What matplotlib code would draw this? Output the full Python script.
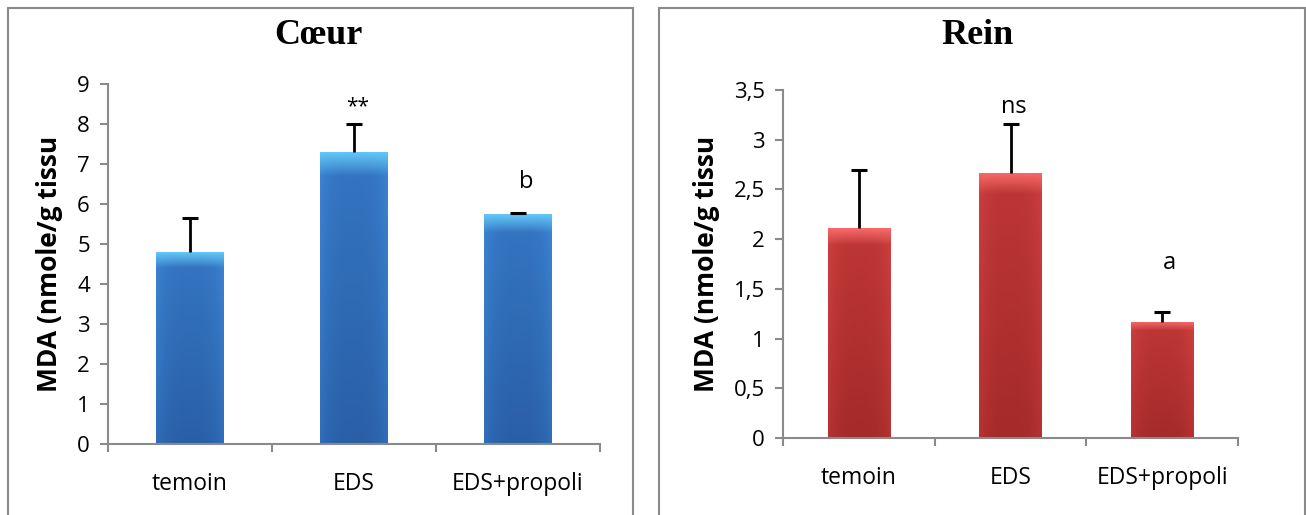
import numpy as np
import matplotlib
matplotlib.use("Agg")
import matplotlib.pyplot as plt
from matplotlib.patches import Rectangle
from matplotlib.colors import to_rgb

# data
groups = ["temoin", "EDS", "EDS+propoli"]

coeur_vals = [4.8, 7.3, 5.75]
coeur_err = [0.85, 0.7, 0.03]
coeur_marks = ["", "**", "b"]
coeur_mark_y = [0, 8.43, 6.55]

rein_vals = [2.11, 2.67, 1.17]
rein_err = [0.59, 0.49, 0.10]
rein_marks = ["", "ns", "a"]
rein_mark_y = [0, 3.33, 1.76]

coeur_ticks = [0, 1, 2, 3, 4, 5, 6, 7, 8, 9]
rein_ticks = [0, 0.5, 1, 1.5, 2, 2.5, 3, 3.5]
rein_ticklabels = ["0", "0,5", "1", "1,5", "2", "2,5", "3", "3,5"]

plt.rcParams['font.family'] = ['Open Sans', 'DejaVu Sans']
GREY = "#8a8a8a"


def gradient_bars(ax, x, heights, width, light, mid, dark):
    light, mid, dark = np.array(to_rgb(light)), np.array(to_rgb(mid)), np.array(to_rgb(dark))
    for xi, h in zip(x, heights):
        bar = ax.bar(xi, h, width, color=mid, zorder=2)[0]
        ny, nx = 200, 60
        v = np.linspace(0, 1, ny)[:, None]          # 0 bottom .. 1 top
        u = np.abs(np.linspace(-1, 1, nx))[None, :]  # 0 centre .. 1 edges
        t = 0.45 * v + 0.3 * u ** 3
        img = dark[None, None, :] * (1 - t[..., None]) + mid[None, None, :] * t[..., None]
        # light band at top
        top = np.clip((v - 0.92) / 0.08, 0, 1)
        img = img * (1 - top[..., None]) + light[None, None, :] * top[..., None]
        im = ax.imshow(img, extent=(xi - width / 2, xi + width / 2, 0, h),
                       origin="lower", aspect="auto", zorder=2.1, interpolation="bilinear")
        im.set_clip_path(bar)


def panel(ax, vals, err, marks, mark_y, ticks, ticklabels, ymax, colors):
    x = np.arange(len(groups)) + 0.5
    gradient_bars(ax, x, vals, 0.41, *colors)
    top = np.array(vals) + np.array(err)
    ax.vlines(x, vals, top, color="black", linewidth=2, zorder=3)
    ax.plot(x, top, linestyle="none", marker="_", markersize=12, markeredgewidth=2.2,
            color="black", zorder=3)
    for xi, m, my in zip(x, marks, mark_y):
        if m:
            ax.text(xi + (0.05 if m in ("b", "a") else 0.02), my, m, ha="center", va="center",
                    fontsize=17 if m != "**" else 15, color="black")
    ax.set_xlim(0, 3)
    ax.set_ylim(0, ymax)
    ax.set_yticks(ticks)
    ax.set_yticklabels(ticklabels, fontsize=16)
    ax.set_xticks([0, 1, 2, 3])
    ax.set_xticklabels([])
    ax.set_xticks(x, minor=True)
    ax.set_xticklabels(groups, minor=True, fontsize=16.5)
    ax.tick_params(axis="x", which="minor", length=0, pad=20)
    ax.tick_params(axis="x", which="major", length=6, width=1.5, color=GREY, direction="out")
    ax.tick_params(axis="y", length=6, width=1.5, color=GREY, direction="out", pad=7)
    for s in ["top", "right"]:
        ax.spines[s].set_visible(False)
    for s in ["left", "bottom"]:
        ax.spines[s].set_color(GREY)
        ax.spines[s].set_linewidth(1.5)
    ax.set_ylabel("MDA (nmole/g tissu", fontsize=19, fontweight="bold", labelpad=10)


fig = plt.figure(figsize=(13.06, 5.15), dpi=100)
W, H = 1306, 515

ax1 = fig.add_axes([108 / W, 1 - 444 / H, (600 - 108) / W, (444 - 84) / H])
ax2 = fig.add_axes([783 / W, 1 - 438 / H, (1238 - 783) / W, (438 - 90) / H])

panel(ax1, coeur_vals, coeur_err, coeur_marks, coeur_mark_y,
      coeur_ticks, [str(t) for t in coeur_ticks], 9,
      ("#62c6f7", "#4190e0", "#2a5fa8"))
panel(ax2, rein_vals, rein_err, rein_marks, rein_mark_y,
      rein_ticks, rein_ticklabels, 3.5,
      ("#f86a6a", "#dc4646", "#a52a2a"))

fig.text(318 / W, 1 - 35 / H, "Cœur", ha="center", va="center", fontsize=26,
         fontweight="bold", family="Liberation Serif")
fig.text(978 / W, 1 - 35 / H, "Rein", ha="center", va="center", fontsize=26,
         fontweight="bold", family="Liberation Serif")

# panel frames
fig.patches.append(Rectangle((8 / W, -0.02), 625 / W, 1.02 - 8 / H, transform=fig.transFigure,
                             fill=False, edgecolor=GREY, linewidth=1.5))
fig.patches.append(Rectangle((659 / W, -0.02), 646 / W, 1.02 - 8 / H, transform=fig.transFigure,
                             fill=False, edgecolor=GREY, linewidth=1.5))

fig.savefig("out.png", dpi=100)
